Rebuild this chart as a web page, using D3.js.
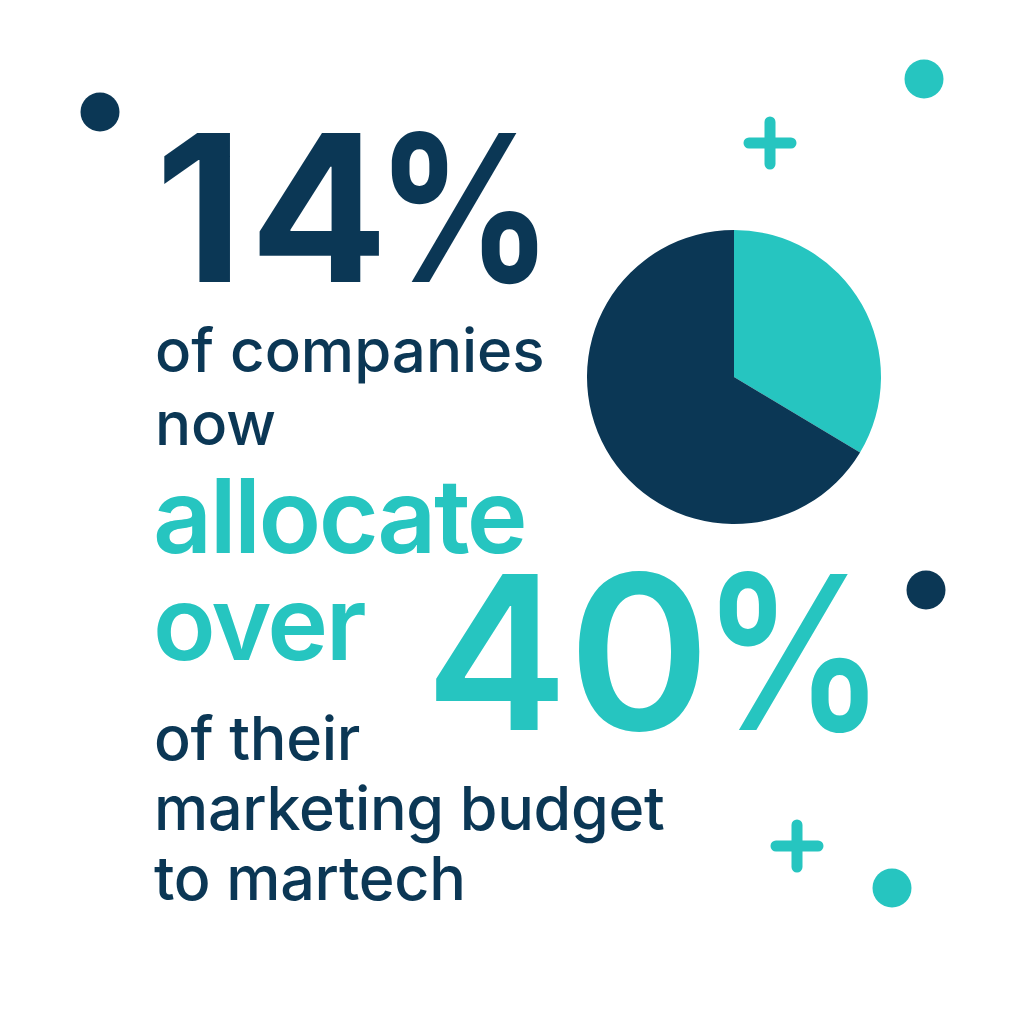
<!DOCTYPE html>
<html>
<head>
<meta charset="utf-8">
<script src="https://cdn.jsdelivr.net/npm/d3@7"></script>
<style>
  html, body { margin: 0; padding: 0; background: #fff; }
  svg { display: block; }
  text { font-family: Inter, "Noto Sans", sans-serif; }
</style>
</head>
<body>
<svg width="1024" height="1024"></svg>
<script>
// pie share: martech vs rest of budget
var pieLabels = ["martech", "other"];
var pieValues = [33.6, 66.4];

// headline copy, one entry per line
var headline = "14%";
var introLines = ["of companies", "now"];
var accentLines = ["allocate", "over"];
var accentNumber = "40%";
var outroLines = ["of their", "marketing budget", "to martech"];

var navy = "#0b3755", teal = "#26c5c0";

var svg = d3.select("svg"), width = +svg.attr("width"), height = +svg.attr("height");

// draw pie
var pie = d3.pie().sort(null).value(function(d) { return d; });
var arc = d3.arc().innerRadius(0).outerRadius(147);
var color = d3.scaleOrdinal().domain(pieLabels).range([teal, navy]);

svg.append("g")
	.attr("class", "pie")
	.attr("transform", "translate(734,377)")
	.selectAll("path")
	.data(pie(pieValues))
	.enter().append("path")
	.attr("d", arc)
	.attr("fill", function(d, i) { return color(pieLabels[i]); });

// text block
function addLines(lines, x, y0, step, size, weight, fill, spacing) {
	svg.append("g").selectAll("text")
		.data(lines)
		.enter().append("text")
		.attr("x", x)
		.attr("y", function(d, i) { return y0 + i * step; })
		.attr("font-size", size)
		.attr("font-weight", weight)
		.attr("letter-spacing", spacing || 0)
		.attr("fill", fill)
		.text(function(d) { return d; });
}

// big number: digits as-is, percent sign a bit narrower
function addNumber(str, x, y, size, weight, fill, spacing, pctX) {
	var g = svg.append("g");
	g.append("text")
		.attr("x", x).attr("y", y)
		.attr("font-size", size)
		.attr("font-weight", weight)
		.attr("letter-spacing", spacing)
		.attr("fill", fill)
		.text(str.slice(0, -1));
	g.append("text")
		.attr("transform", "translate(" + pctX + "," + y + ") scale(0.85,1)")
		.attr("font-size", size)
		.attr("font-weight", weight)
		.attr("fill", fill)
		.text(str.slice(-1));
}

addNumber(headline, 155, 282, 205, 700, navy, 6, 376);
addLines(introLines, 155, 372, 73, 60, 500, navy, 0);
addLines(accentLines, 153, 553, 107, 103, 600, teal, -2.5);
addNumber(accentNumber, 425, 730, 215, 600, teal, 0, 702);
addLines(outroLines, 154, 760, 70, 61, 500, navy, -0.3);

// decorations
var dots = [[100, 112, navy], [924, 79, teal], [926, 590, navy], [892, 888, teal]];
svg.append("g").selectAll("circle")
	.data(dots)
	.enter().append("circle")
	.attr("cx", function(d) { return d[0]; })
	.attr("cy", function(d) { return d[1]; })
	.attr("r", 19.5)
	.attr("fill", function(d) { return d[2]; });

var pluses = [[770, 143], [797, 846]];
svg.append("g").selectAll("path")
	.data(pluses)
	.enter().append("path")
	.attr("d", function(d) {
		return "M" + (d[0] - 21) + "," + d[1] + "H" + (d[0] + 21) +
			"M" + d[0] + "," + (d[1] - 21) + "V" + (d[1] + 21);
	})
	.attr("stroke", teal)
	.attr("stroke-width", 11)
	.attr("stroke-linecap", "round")
	.attr("fill", "none");
</script>
</body>
</html>
